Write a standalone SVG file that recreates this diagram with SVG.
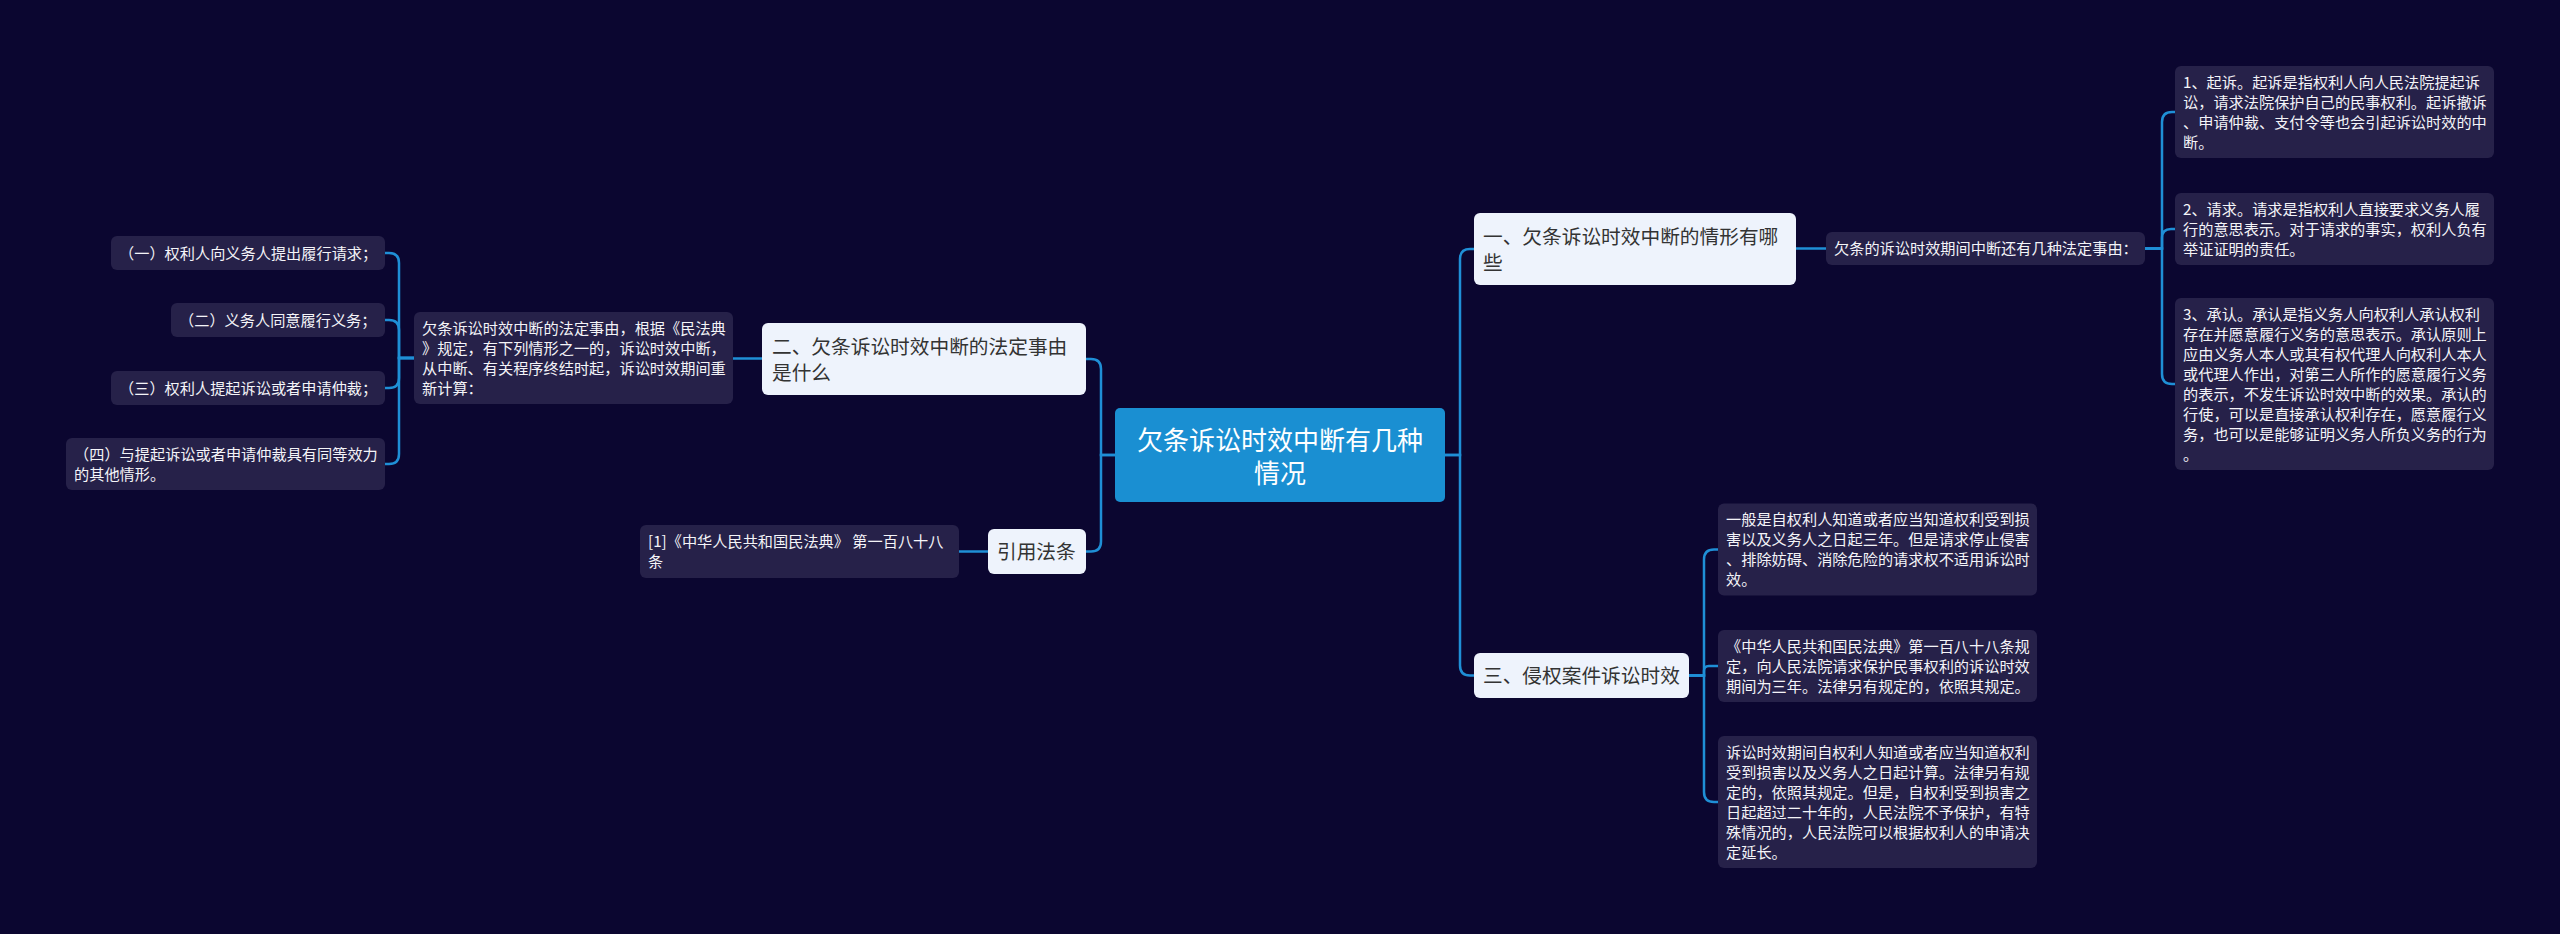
<svg xmlns="http://www.w3.org/2000/svg" width="2560" height="934" viewBox="0 0 2560 934">
<style>
.bg{fill:#0b0630}
.c{fill:none;stroke:#1f8fd6;stroke-width:2.5}
.sn{fill:#262149}
.st{font-family:"Noto Sans CJK SC","Noto Sans",sans-serif;font-size:15.2px;fill:#f4f4f8}
.bn{fill:#eef3fc}
.bt{font-family:"Noto Sans CJK SC","Noto Sans",sans-serif;font-size:19.7px;fill:#333333}
.rn{fill:#1a8fd2}
.rt{font-family:"Noto Sans CJK SC","Noto Sans",sans-serif;font-size:26px;fill:#ffffff;text-anchor:middle}
</style>
<rect class="bg" x="0" y="0" width="2560" height="934"/>
<g id="connectors">
<path class="c" d="M1445 455 H1460 V259 Q1460 249 1470 249 H1474"/>
<path class="c" d="M1445 455 H1460 V665.5 Q1460 675.5 1470 675.5 H1474"/>
<path class="c" d="M1115 455 H1101 V369 Q1101 359 1091 359 H1086"/>
<path class="c" d="M1115 455 H1101 V541.5 Q1101 551.5 1091 551.5 H1086"/>
<path class="c" d="M1796 248.5 H1826"/>
<path class="c" d="M2145 248.5 H2162 V122 Q2162 112 2172 112 H2175"/>
<path class="c" d="M2145 248.5 H2162 V238 Q2162 229 2171 229 H2175"/>
<path class="c" d="M2145 248.5 H2162 V374 Q2162 384 2172 384 H2175"/>
<path class="c" d="M1689 675.5 H1704 V559.5 Q1704 549.5 1714 549.5 H1718"/>
<path class="c" d="M1689 675.5 H1704 V670.75 Q1704 666 1708.75 666 H1718"/>
<path class="c" d="M1689 675.5 H1704 V792 Q1704 802 1714 802 H1718"/>
<path class="c" d="M762 358.5 H733"/>
<path class="c" d="M414 358 H399 V263 Q399 253 389 253 H385"/>
<path class="c" d="M414 358 H399 V330 Q399 320 389 320 H385"/>
<path class="c" d="M414 358 H399 V378 Q399 388 389 388 H385"/>
<path class="c" d="M414 358 H399 V454 Q399 464 389 464 H385"/>
<path class="c" d="M988 551.5 H959"/>
</g>
<g id="root">
<rect class="rn" x="1115" y="408" width="330" height="94" rx="5"/>
<text class="rt" x="1280" y="450">欠条诉讼时效中断有几种</text>
<text class="rt" x="1280" y="483">情况</text>
</g>
<g id="b1">
<rect class="bn" x="1474" y="213" width="322" height="72" rx="6"/>
<text class="bt" x="1483" y="243.5">一、欠条诉讼时效中断的情形有哪</text>
<text class="bt" x="1483" y="269.5">些</text>
</g>
<g id="b1n">
<rect class="sn" x="1826" y="232" width="319" height="33" rx="6"/>
<text class="st" x="1834" y="254.3">欠条的诉讼时效期间中断还有几种法定事由：</text>
</g>
<g id="i1">
<rect class="sn" x="2175" y="66" width="319" height="92" rx="6"/>
<text class="st" x="2183" y="87.8">1、起诉。起诉是指权利人向人民法院提起诉</text>
<text class="st" x="2183" y="107.8">讼，请求法院保护自己的民事权利。起诉撤诉</text>
<text class="st" x="2183" y="127.8">、申请仲裁、支付令等也会引起诉讼时效的中</text>
<text class="st" x="2183" y="147.8">断。</text>
</g>
<g id="i2">
<rect class="sn" x="2175" y="193" width="319" height="72" rx="6"/>
<text class="st" x="2183" y="214.8">2、请求。请求是指权利人直接要求义务人履</text>
<text class="st" x="2183" y="234.8">行的意思表示。对于请求的事实，权利人负有</text>
<text class="st" x="2183" y="254.8">举证证明的责任。</text>
</g>
<g id="i3">
<rect class="sn" x="2175" y="298" width="319" height="172" rx="6"/>
<text class="st" x="2183" y="319.8">3、承认。承认是指义务人向权利人承认权利</text>
<text class="st" x="2183" y="339.8">存在并愿意履行义务的意思表示。承认原则上</text>
<text class="st" x="2183" y="359.8">应由义务人本人或其有权代理人向权利人本人</text>
<text class="st" x="2183" y="379.8">或代理人作出，对第三人所作的愿意履行义务</text>
<text class="st" x="2183" y="399.8">的表示，不发生诉讼时效中断的效果。承认的</text>
<text class="st" x="2183" y="419.8">行使，可以是直接承认权利存在，愿意履行义</text>
<text class="st" x="2183" y="439.8">务，也可以是能够证明义务人所负义务的行为</text>
<text class="st" x="2183" y="459.8">。</text>
</g>
<g id="b3">
<rect class="bn" x="1474" y="653" width="215" height="45" rx="6"/>
<text class="bt" x="1483" y="683">三、侵权案件诉讼时效</text>
</g>
<g id="c1">
<rect class="sn" x="1718" y="503.5" width="319" height="92" rx="6"/>
<text class="st" x="1726" y="525.3">一般是自权利人知道或者应当知道权利受到损</text>
<text class="st" x="1726" y="545.3">害以及义务人之日起三年。但是请求停止侵害</text>
<text class="st" x="1726" y="565.3">、排除妨碍、消除危险的请求权不适用诉讼时</text>
<text class="st" x="1726" y="585.3">效。</text>
</g>
<g id="c2">
<rect class="sn" x="1718" y="630" width="319" height="72" rx="6"/>
<text class="st" x="1726" y="651.8">《中华人民共和国民法典》第一百八十八条规</text>
<text class="st" x="1726" y="671.8">定，向人民法院请求保护民事权利的诉讼时效</text>
<text class="st" x="1726" y="691.8">期间为三年。法律另有规定的，依照其规定。</text>
</g>
<g id="c3">
<rect class="sn" x="1718" y="736" width="319" height="132" rx="6"/>
<text class="st" x="1726" y="757.8">诉讼时效期间自权利人知道或者应当知道权利</text>
<text class="st" x="1726" y="777.8">受到损害以及义务人之日起计算。法律另有规</text>
<text class="st" x="1726" y="797.8">定的，依照其规定。但是，自权利受到损害之</text>
<text class="st" x="1726" y="817.8">日起超过二十年的，人民法院不予保护，有特</text>
<text class="st" x="1726" y="837.8">殊情况的，人民法院可以根据权利人的申请决</text>
<text class="st" x="1726" y="857.8">定延长。</text>
</g>
<g id="b2">
<rect class="bn" x="762" y="323" width="324" height="72" rx="6"/>
<text class="bt" x="772" y="353.5">二、欠条诉讼时效中断的法定事由</text>
<text class="bt" x="772" y="379.5">是什么</text>
</g>
<g id="b2n">
<rect class="sn" x="414" y="312" width="319" height="92" rx="6"/>
<text class="st" x="422" y="333.8">欠条诉讼时效中断的法定事由，根据《民法典</text>
<text class="st" x="422" y="353.8">》规定，有下列情形之一的，诉讼时效中断，</text>
<text class="st" x="422" y="373.8">从中断、有关程序终结时起，诉讼时效期间重</text>
<text class="st" x="422" y="393.8">新计算：</text>
</g>
<g id="l1">
<rect class="sn" x="111" y="236" width="274" height="34" rx="6"/>
<text class="st" x="119" y="258.8">（一）权利人向义务人提出履行请求；</text>
</g>
<g id="l2">
<rect class="sn" x="171" y="303" width="214" height="34" rx="6"/>
<text class="st" x="179" y="325.8">（二）义务人同意履行义务；</text>
</g>
<g id="l3">
<rect class="sn" x="111" y="371" width="274" height="34" rx="6"/>
<text class="st" x="119" y="393.8">（三）权利人提起诉讼或者申请仲裁；</text>
</g>
<g id="l4">
<rect class="sn" x="66" y="438" width="319" height="52" rx="6"/>
<text class="st" x="74" y="459.8">（四）与提起诉讼或者申请仲裁具有同等效力</text>
<text class="st" x="74" y="479.8">的其他情形。</text>
</g>
<g id="b4">
<rect class="bn" x="988" y="529" width="98" height="45" rx="6"/>
<text class="bt" x="997" y="559">引用法条</text>
</g>
<g id="ref">
<rect class="sn" x="640" y="525" width="319" height="53" rx="6"/>
<text class="st" x="648" y="547.3">[1]《中华人民共和国民法典》 第一百八十八</text>
<text class="st" x="648" y="567.3">条</text>
</g>
</svg>
